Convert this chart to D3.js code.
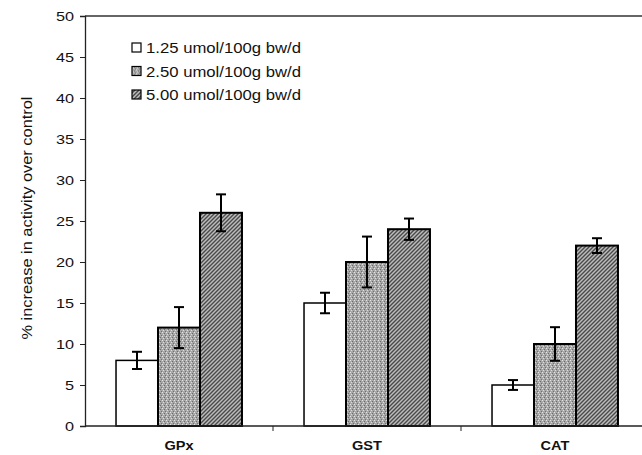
<!DOCTYPE html>
<html>
<head>
<meta charset="utf-8">
<script src="https://cdn.jsdelivr.net/npm/d3@7"></script>
<style>
  body { margin: 0; background: #fff; }
  text { font-family: Arial, "Liberation Sans", sans-serif; }
</style>
</head>
<body>
<svg id="chart" width="642" height="455"></svg>
<script>
// data
const categories = ["GPx", "GST", "CAT"]
const doses = ["1.25 umol/100g bw/d", "2.50 umol/100g bw/d", "5.00 umol/100g bw/d"]
const lowDose = [8, 15, 5]
const midDose = [12, 20, 10]
const highDose = [26, 24, 22]
const lowErr = [1.05, 1.25, 0.6]
const midErr = [2.5, 3.1, 2.05]
const highErr = [2.25, 1.3, 0.9]
const yTicks = [0, 5, 10, 15, 20, 25, 30, 35, 40, 45, 50]

const seriesVals = [lowDose, midDose, highDose]
const seriesErr = [lowErr, midErr, highErr]

const rows = []
categories.forEach((c, i) => {
  doses.forEach((d, j) => {
    rows.push({ cat: c, dose: d, idx: j, value: seriesVals[j][i], err: seriesErr[j][i] })
  })
})

const svg = d3.select("#chart")
const margin = { top: 16, right: -7, bottom: 29, left: 85 }
const width = 642 - margin.left - margin.right
const height = 455 - margin.top - margin.bottom

// fill patterns for the grey-scale print look
const defs = svg.append("defs")
const stip = defs.append("pattern")
  .attr("id", "stipple").attr("patternUnits", "userSpaceOnUse")
  .attr("width", 4).attr("height", 4)
stip.append("rect").attr("width", 4).attr("height", 4).attr("fill", "#a8a8a8")
stip.append("rect").attr("x", 0).attr("y", 0).attr("width", 1).attr("height", 1).attr("fill", "#e6e6e6")
stip.append("rect").attr("x", 2).attr("y", 1).attr("width", 1).attr("height", 1).attr("fill", "#6a6a6a")
stip.append("rect").attr("x", 1).attr("y", 2).attr("width", 1).attr("height", 1).attr("fill", "#dcdcdc")
stip.append("rect").attr("x", 3).attr("y", 3).attr("width", 1).attr("height", 1).attr("fill", "#707070")

const hatch = defs.append("pattern")
  .attr("id", "hatch").attr("patternUnits", "userSpaceOnUse")
  .attr("width", 4).attr("height", 4)
hatch.append("rect").attr("width", 4).attr("height", 4).attr("fill", "#bdbdbd")
hatch.append("path")
  .attr("d", "M-1,1 l2,-2 M0,4 l4,-4 M3,5 l2,-2")
  .attr("stroke", "#4a4a4a").attr("stroke-width", 1.4)

const fills = ["#ffffff", "url(#stipple)", "url(#hatch)"]
const strokeW = [1.5, 2, 2]

const g = svg.append("g").attr("transform", `translate(${margin.left},${margin.top})`)

const x0 = d3.scaleBand().domain(categories).range([0, width]).paddingInner(0).paddingOuter(0)
const x1 = d3.scaleBand().domain(doses).range([0, x0.bandwidth() * 0.67]).padding(0)
const groupOffset = (x0.bandwidth() - x1.range()[1]) / 2
const y = d3.scaleLinear().domain([0, 50]).range([height, 0])

// top frame line
g.append("line")
  .attr("x1", 0).attr("x2", width).attr("y1", 0).attr("y2", 0)
  .attr("stroke", "#333").attr("stroke-width", 1.3)

// bars
const bars = g.selectAll(".bar").data(rows).enter().append("g").attr("class", "bar")
  .attr("transform", (d) => `translate(${x0(d.cat) + groupOffset + x1(d.dose)},0)`)

bars.append("rect")
  .attr("x", 0)
  .attr("y", (d) => y(d.value))
  .attr("width", x1.bandwidth())
  .attr("height", (d) => height - y(d.value))
  .attr("fill", (d) => fills[d.idx])
  .attr("stroke", "#000")
  .attr("stroke-width", (d) => strokeW[d.idx])

// error bars
const cap = 5
bars.append("line")
  .attr("x1", x1.bandwidth() / 2).attr("x2", x1.bandwidth() / 2)
  .attr("y1", (d) => y(d.value + d.err)).attr("y2", (d) => y(d.value - d.err))
  .attr("stroke", "#000").attr("stroke-width", 2)
bars.append("line")
  .attr("x1", x1.bandwidth() / 2 - cap).attr("x2", x1.bandwidth() / 2 + cap)
  .attr("y1", (d) => y(d.value + d.err)).attr("y2", (d) => y(d.value + d.err))
  .attr("stroke", "#000").attr("stroke-width", 2)
bars.append("line")
  .attr("x1", x1.bandwidth() / 2 - cap).attr("x2", x1.bandwidth() / 2 + cap)
  .attr("y1", (d) => y(d.value - d.err)).attr("y2", (d) => y(d.value - d.err))
  .attr("stroke", "#000").attr("stroke-width", 2)

// y axis
const yAxis = g.append("g")
  .call(d3.axisLeft(y).tickValues(yTicks).tickSize(5).tickPadding(4))
yAxis.select(".domain").attr("stroke", "#222").attr("stroke-width", 1.3)
yAxis.selectAll(".tick line").attr("stroke", "#222")
// the printed digits are wide, so stretch them a little
yAxis.selectAll(".tick text")
  .attr("x", 0)
  .attr("transform", "translate(-11,0) scale(1.3,1)")
  .attr("font-size", 12.5).attr("fill", "#111")
  .attr("font-family", "Arial, 'Liberation Sans', sans-serif")

// x axis with ticks between categories
const xAxis = g.append("g").attr("transform", `translate(0,${height})`)
xAxis.append("line")
  .attr("x1", 0).attr("x2", width)
  .attr("stroke", "#222").attr("stroke-width", 1.3)
xAxis.selectAll(".sep").data(categories.slice(1)).enter().append("line")
  .attr("x1", (d) => x0(d)).attr("x2", (d) => x0(d))
  .attr("y1", 0).attr("y2", 5)
  .attr("stroke", "#222")
xAxis.selectAll(".cat").data(categories).enter().append("text")
  .attr("transform", (d) => `translate(${x0(d) + x0.bandwidth() / 2},24) scale(1.12,1)`)
  .attr("text-anchor", "middle")
  .attr("font-size", 13).attr("font-weight", "bold").attr("fill", "#111")
  .text((d) => d)

// y axis title
svg.append("text")
  .attr("transform", "translate(32,218) rotate(-90)")
  .attr("text-anchor", "middle")
  .attr("font-size", 14).attr("fill", "#111")
  .attr("textLength", 243).attr("lengthAdjust", "spacingAndGlyphs")
  .text("% increase in activity over control")

// legend
const legend = svg.append("g").attr("transform", "translate(132,42)")
const li = legend.selectAll(".li").data(doses).enter().append("g")
  .attr("transform", (d, i) => `translate(0,${i * 23.5})`)
li.append("rect")
  .attr("width", 9).attr("height", 9).attr("y", 1)
  .attr("fill", (d, i) => fills[i])
  .attr("stroke", "#000").attr("stroke-width", 1.2)
li.append("text")
  .attr("x", 14).attr("y", 11)
  .attr("font-size", 15).attr("fill", "#111")
  .attr("textLength", 155).attr("lengthAdjust", "spacingAndGlyphs")
  .text((d) => d)
</script>
</body>
</html>
